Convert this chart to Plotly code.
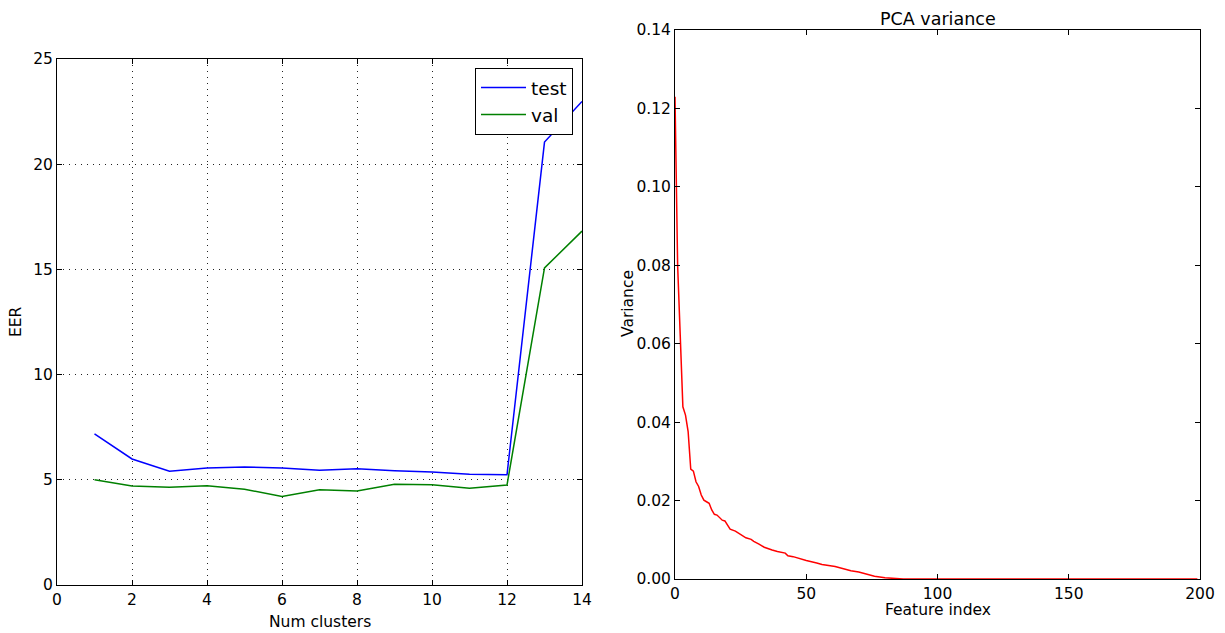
import plotly.graph_objects as go

# Left panel data
num_clusters = [1, 2, 3, 4, 5, 6, 7, 8, 9, 10, 11, 12, 13, 14]
eer_test = [7.18, 5.99, 5.41, 5.56, 5.61, 5.56, 5.45, 5.53, 5.43, 5.37, 5.26, 5.24, 21.05, 22.98]
eer_val = [5.0, 4.70, 4.64, 4.72, 4.55, 4.21, 4.53, 4.47, 4.79, 4.77, 4.60, 4.75, 15.07, 16.82]

# Right panel data
feature_index = [0, 1, 2, 3, 4, 5, 6, 7, 8, 9, 10, 11, 12, 13, 14, 15, 16, 17, 18, 19,
                 20, 21, 23, 25, 27, 29, 30, 32, 34, 37, 39, 42, 43, 45, 48, 50, 54, 56,
                 61, 64, 67, 70, 73, 76, 80, 87, 100, 120, 150, 180, 199]
variance = [0.123, 0.080, 0.062, 0.0439, 0.0418, 0.0376, 0.0280, 0.0275, 0.0248, 0.0236,
            0.0214, 0.0201, 0.0197, 0.0193, 0.0176, 0.0165, 0.0163, 0.0157, 0.0150, 0.0148,
            0.0137, 0.0127, 0.0122, 0.0113, 0.0105, 0.0101, 0.0096, 0.0089, 0.0081, 0.0074,
            0.0070, 0.0066, 0.0059, 0.0057, 0.0051, 0.0047, 0.0041, 0.0037, 0.0032, 0.0027,
            0.0021, 0.0018, 0.0012, 0.0007, 0.0003, 0.0, 0.0, 0.0, 0.0, 0.0, 0.0]

W, H = 1225, 633
FONT = "DejaVu Sans"

fig = go.Figure()
fig.add_trace(go.Scatter(x=num_clusters, y=eer_test, mode="lines", name="test",
                         line=dict(color="#0000ff", width=1.5), xaxis="x", yaxis="y"))
fig.add_trace(go.Scatter(x=num_clusters, y=eer_val, mode="lines", name="val",
                         line=dict(color="#008000", width=1.5), xaxis="x", yaxis="y"))
fig.add_trace(go.Scatter(x=feature_index, y=variance, mode="lines", name="variance",
                         line=dict(color="#ff0000", width=1.5), xaxis="x2", yaxis="y2",
                         showlegend=False))

axis_common = dict(showline=True, linecolor="black", linewidth=1, mirror="ticks",
                   ticks="inside", ticklen=5, tickcolor="black", zeroline=False,
                   automargin=False,
                   tickfont=dict(family=FONT, size=15.5, color="black"))

grid = dict(showgrid=True, gridcolor="#222222", griddash="1px,5px", gridwidth=1)

lx0, lx1 = 57 / W, 582 / W
ly0, ly1 = 1 - 585 / H, 1 - 59 / H
rx0, rx1 = 675 / W, 1200 / W
ry0, ry1 = 1 - 579 / H, 1 - 30 / H

fig.update_layout(
    template="none",
    width=W, height=H,
    margin=dict(l=0, r=0, t=0, b=0, pad=0),
    paper_bgcolor="white", plot_bgcolor="white",
    font=dict(family=FONT, color="black"),
    xaxis=dict(domain=[lx0, lx1], range=[0, 14], tickvals=[0, 2, 4, 6, 8, 10, 12, 14],
               anchor="y", **grid, **axis_common),
    yaxis=dict(domain=[ly0, ly1], range=[0, 25], tickvals=[0, 5, 10, 15, 20, 25],
               anchor="x", **grid, **axis_common),
    xaxis2=dict(domain=[rx0, rx1], range=[0, 200], tickvals=[0, 50, 100, 150, 200],
                showgrid=False, anchor="y2", **axis_common),
    yaxis2=dict(domain=[ry0, ry1], range=[0, 0.14],
                tickvals=[0, 0.02, 0.04, 0.06, 0.08, 0.10, 0.12, 0.14],
                tickformat=".2f", showgrid=False, anchor="x2", **axis_common),
    legend=dict(x=573 / W, y=1 - 68 / H, xanchor="right", yanchor="top",
                bordercolor="black", borderwidth=1, bgcolor="white",
                font=dict(family=FONT, size=18.5, color="black"),
                tracegroupgap=0, itemwidth=45),
    annotations=[
        dict(text="Num clusters", x=320 / W, y=1 - 622 / H, xref="paper", yref="paper",
             showarrow=False, font=dict(family=FONT, size=15.5), xanchor="center", yanchor="middle"),
        dict(text="EER", x=16 / W, y=1 - 322 / H, xref="paper", yref="paper", textangle=-90,
             showarrow=False, font=dict(family=FONT, size=15.5), xanchor="center", yanchor="middle"),
        dict(text="Feature index", x=938 / W, y=1 - 610 / H, xref="paper", yref="paper",
             showarrow=False, font=dict(family=FONT, size=15.5), xanchor="center", yanchor="middle"),
        dict(text="Variance", x=628 / W, y=1 - 304 / H, xref="paper", yref="paper", textangle=-90,
             showarrow=False, font=dict(family=FONT, size=15.5), xanchor="center", yanchor="middle"),
        dict(text="PCA variance", x=938 / W, y=1 - 19 / H, xref="paper", yref="paper",
             showarrow=False, font=dict(family=FONT, size=17.5), xanchor="center", yanchor="middle"),
    ],
)

fig.write_html("out.html")
